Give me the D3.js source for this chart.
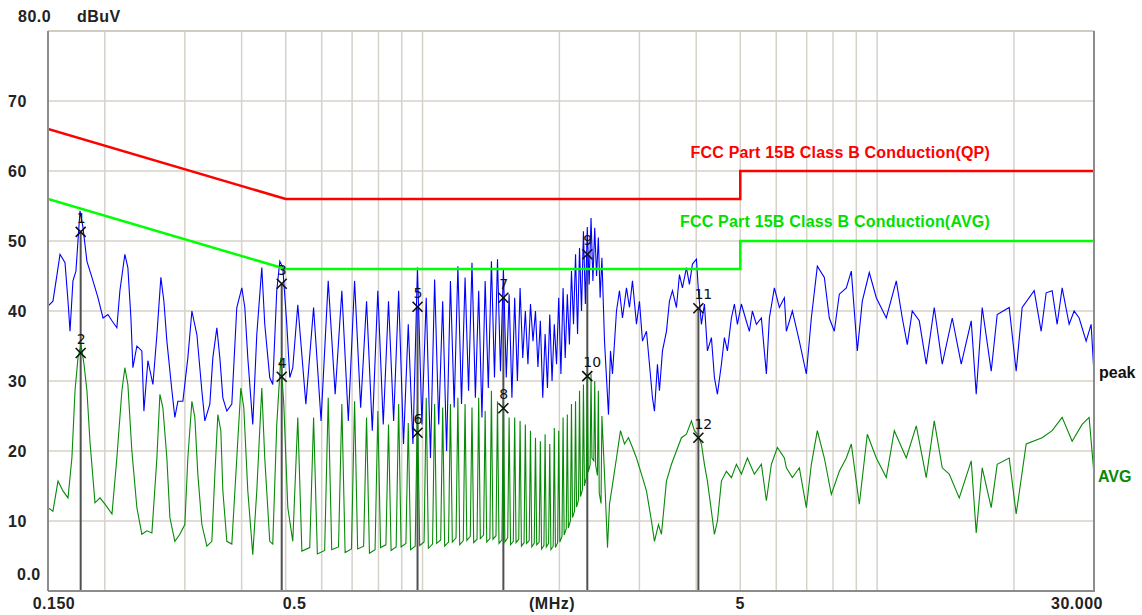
<!DOCTYPE html>
<html><head><meta charset="utf-8">
<script src="https://cdn.jsdelivr.net/npm/d3@7"></script>
<style>body{margin:0;background:#fff}svg{display:block}</style>
</head><body>
<svg id="chart" width="1142" height="615"></svg>
<script>
// ---------------- DATA ----------------
// y-axis tick labels (dBuV)
const yTickValues = [10, 20, 30, 40, 50, 60, 70];
const yTickLabels = ["10", "20", "30", "40", "50", "60", "70"];
// x-axis labels (MHz)
const xLabelFreqs = [0.15, 0.5, 5, 30];
const xLabelTexts = ["0.150", "0.5", "5", "30.000"];
// vertical grid frequencies (MHz)
const gridFreqs = [0.2, 0.3, 0.4, 0.5, 0.6, 0.7, 0.8, 0.9, 1, 2, 3, 4, 5, 6, 7, 8, 9, 10, 20];

// limit lines
const limitFreq = [0.15, 0.5, 5, 5, 30];
const qpLimitDb = [66, 56, 56, 60, 60];
const avgLimitDb = [56, 46, 46, 50, 50];

// peak trace, 0.15 - 0.52 MHz
const lowPeakFreq = [0.1500, 0.1538, 0.1570, 0.1594, 0.1635, 0.1660, 0.1677, 0.1702, 0.1728, 0.1764,
  0.1791, 0.1827, 0.1874, 0.1932, 0.1982, 0.2032, 0.2074, 0.2126, 0.2159, 0.2214,
  0.2248, 0.2283, 0.2306, 0.2353, 0.2413, 0.2438, 0.2488, 0.2552, 0.2604, 0.2657,
  0.2698, 0.2739, 0.2810, 0.2852, 0.2896, 0.2970, 0.3046, 0.3109, 0.3189, 0.3270,
  0.3320, 0.3405, 0.3457, 0.3528, 0.3582, 0.3637, 0.3711, 0.3806, 0.3903, 0.4004,
  0.4065, 0.4127, 0.4232, 0.4319, 0.4430, 0.4497, 0.4612, 0.4683, 0.4779, 0.4853,
  0.4927, 0.5028, 0.5105, 0.5183];
const lowPeakDb = [40.7, 41.4, 45.2, 48.1, 46.9, 41.4, 37.1, 44.3, 45.7, 54.3,
  51.9, 47.1, 44.8, 41.9, 39.0, 39.5, 38.6, 37.6, 42.9, 48.1,
  46.2, 39.0, 31.9, 35.0, 34.3, 25.7, 32.9, 29.5, 36.6, 44.8,
  41.4, 35.7, 28.6, 24.8, 27.1, 27.1, 33.3, 40.0, 36.6, 28.6,
  24.3, 26.7, 33.3, 37.6, 33.3, 27.6, 25.7, 26.7, 40.5, 43.3,
  40.5, 33.3, 23.8, 36.6, 46.2, 38.1, 30.5, 29.5, 42.9, 47.1,
  46.2, 38.1, 30.5, 31.9];

// average trace, 0.15 - 0.52 MHz
const lowAvgFreq = [0.1500, 0.1538, 0.1578, 0.1618, 0.1660, 0.1693, 0.1720, 0.1746, 0.1773, 0.1800,
  0.1827, 0.1855, 0.1903, 0.1952, 0.2002, 0.2074, 0.2126, 0.2181, 0.2214, 0.2248,
  0.2294, 0.2353, 0.2413, 0.2475, 0.2539, 0.2604, 0.2644, 0.2684, 0.2739, 0.2781,
  0.2852, 0.2925, 0.3000, 0.3046, 0.3109, 0.3156, 0.3204, 0.3270, 0.3354, 0.3440,
  0.3493, 0.3546, 0.3600, 0.3637, 0.3711, 0.3806, 0.3903, 0.3984, 0.4044, 0.4127,
  0.4232, 0.4319, 0.4430, 0.4497, 0.4612, 0.4683, 0.4779, 0.4877, 0.4952, 0.5054,
  0.5183];
const lowAvgDb = [11.9, 11.4, 15.7, 14.3, 13.3, 19.0, 28.6, 33.3, 35.2, 32.4,
  28.6, 21.4, 12.6, 13.3, 12.4, 11.0, 19.0, 28.6, 31.9, 29.5,
  20.0, 11.9, 8.1, 8.6, 8.3, 19.0, 28.1, 26.2, 19.0, 10.5,
  7.1, 8.1, 9.5, 19.0, 27.1, 24.8, 16.7, 9.5, 6.4, 7.1,
  16.7, 25.2, 22.9, 14.3, 7.1, 6.7, 19.0, 29.0, 26.2, 14.3,
  5.2, 14.3, 29.0, 19.0, 7.1, 6.7, 23.8, 33.3, 26.7, 11.9,
  7.1];

// peak trace, harmonic comb 0.53 - 2.48 MHz (harmonic peak, then trough)
const combPeakFreq = [
  0.5316, 0.5538, 0.5759, 0.5981, 0.6202, 0.6424, 0.6645, 0.6867, 0.7088, 0.7310,
  0.7531, 0.7753, 0.7974, 0.8196, 0.8417, 0.8639, 0.8860, 0.9082, 0.9303, 0.9525,
  0.9746, 0.9968, 1.0189, 1.0411, 1.0632, 1.0854, 1.1075, 1.1297, 1.1518, 1.1740,
  1.1961, 1.2183, 1.2404, 1.2626, 1.2847, 1.3069, 1.3290, 1.3512, 1.3733, 1.3955,
  1.4176, 1.4398, 1.4619, 1.4841, 1.5062, 1.5284, 1.5505, 1.5727, 1.5948, 1.6170,
  1.6391, 1.6613, 1.6834, 1.7056, 1.7277, 1.7499, 1.7720, 1.7942, 1.8163, 1.8385,
  1.8606, 1.8828, 1.9049, 1.9271, 1.9492, 1.9714, 1.9935, 2.0157, 2.0378, 2.0600,
  2.0821, 2.1043, 2.1264, 2.1486, 2.1707, 2.1929, 2.2150, 2.2372, 2.2593, 2.2815,
  2.3036, 2.3258, 2.3479, 2.3701, 2.3922, 2.4144, 2.4365, 2.4587, 2.4808];
const combPeakDb = [
  40.9, 26.7, 40.5, 24.3, 44.3, 28.1, 42.9, 24.3, 44.3, 26.2,
  41.4, 22.9, 42.9, 23.8, 41.4, 24.3, 42.9, 21.0, 38.1, 21.0,
  46.2, 23.8, 41.9, 19.0, 44.5, 23.8, 41.4, 20.0, 44.3, 26.2,
  46.4, 26.7, 44.8, 28.6, 46.9, 27.6, 42.9, 24.8, 44.3, 29.0,
  47.1, 30.5, 47.4, 31.4, 46.0, 30.5, 42.4, 27.6, 41.9, 30.0,
  43.3, 33.3, 40.0, 32.4, 41.0, 35.7, 40.0, 32.0, 38.6, 27.6,
  36.7, 29.0, 39.5, 30.0, 38.1, 32.4, 41.9, 31.0, 43.3, 33.3,
  42.4, 35.2, 45.7, 38.1, 48.1, 36.7, 49.0, 40.0, 51.4, 41.0,
  52.0, 43.8, 53.3, 44.3, 51.9, 45.0, 50.5, 41.9, 47.6];

// average trace, harmonic comb 0.53 - 2.48 MHz (harmonic peak, then flat trough edges)
const combAvgFreq = [
  0.5316, 0.5427, 0.5648, 0.5759, 0.5870, 0.6091, 0.6202, 0.6313, 0.6534,
  0.6645, 0.6756, 0.6977, 0.7088, 0.7199, 0.7420, 0.7531, 0.7642, 0.7863,
  0.7974, 0.8085, 0.8306, 0.8417, 0.8528, 0.8749, 0.8860, 0.8971, 0.9192,
  0.9303, 0.9414, 0.9635, 0.9746, 0.9857, 1.0078, 1.0189, 1.0300, 1.0521,
  1.0632, 1.0743, 1.0964, 1.1075, 1.1186, 1.1407, 1.1518, 1.1629, 1.1850,
  1.1961, 1.2072, 1.2293, 1.2404, 1.2515, 1.2736, 1.2847, 1.2958, 1.3179,
  1.3290, 1.3401, 1.3622, 1.3733, 1.3844, 1.4065, 1.4176, 1.4287, 1.4508,
  1.4619, 1.4730, 1.4951, 1.5062, 1.5173, 1.5394, 1.5505, 1.5616, 1.5837,
  1.5948, 1.6059, 1.6280, 1.6391, 1.6502, 1.6723, 1.6834, 1.6945, 1.7166,
  1.7277, 1.7388, 1.7609, 1.7720, 1.7831, 1.8052, 1.8163, 1.8274, 1.8495,
  1.8606, 1.8717, 1.8938, 1.9049, 1.9160, 1.9381, 1.9492, 1.9603, 1.9824,
  1.9935, 2.0046, 2.0267, 2.0378, 2.0489, 2.0710, 2.0821, 2.0932, 2.1153,
  2.1264, 2.1375, 2.1596, 2.1707, 2.1818, 2.2039, 2.2150, 2.2261, 2.2482,
  2.2593, 2.2704, 2.2925, 2.3036, 2.3147, 2.3368, 2.3479, 2.3590, 2.3811,
  2.3922, 2.4033, 2.4254, 2.4365, 2.4476, 2.4697, 2.4808];
const combAvgDb = [
  24.8, 5.7, 6.2, 24.8, 5.3, 5.8, 27.6, 5.9, 6.3,
  26.7, 5.5, 6.0, 27.1, 6.0, 6.4, 24.8, 5.4, 5.9,
  25.7, 6.2, 6.6, 23.8, 5.8, 6.3, 26.7, 6.3, 6.8,
  24.0, 5.9, 6.4, 26.7, 6.5, 7.0, 27.6, 6.1, 6.7,
  26.7, 6.8, 7.3, 26.2, 6.4, 7.0, 26.7, 7.0, 7.6,
  27.6, 6.6, 7.2, 26.7, 7.2, 7.8, 26.2, 6.9, 7.4,
  27.6, 7.5, 8.0, 25.7, 7.0, 7.5, 28.6, 7.4, 7.9,
  27.1, 6.8, 7.3, 27.6, 7.0, 7.6, 24.8, 6.6, 7.1,
  24.8, 6.9, 7.4, 24.3, 6.4, 6.9, 23.8, 6.8, 7.2,
  22.9, 6.3, 6.8, 21.9, 6.6, 7.0, 21.4, 6.0, 6.5,
  22.4, 6.3, 6.8, 21.0, 5.9, 6.4, 23.3, 6.2, 6.9,
  22.9, 7.0, 7.8, 24.8, 8.0, 8.9, 25.2, 9.0, 10.0,
  26.7, 10.5, 11.4, 27.1, 12.0, 13.0, 28.6, 13.5, 14.5,
  29.5, 15.0, 16.2, 30.5, 17.0, 18.0, 31.0, 19.0, 18.6,
  30.0, 18.0, 16.5, 28.6, 14.0, 12.5, 25.0];

// peak trace 2.5 - 30 MHz
const highPeakFreq = [2.5136, 2.5650, 2.5911, 2.6175, 2.6710, 2.7118, 2.7534, 2.8097, 2.8526, 2.8963,
  2.9555, 3.0007, 3.0467, 3.1090, 3.1565, 3.2049, 3.2374, 3.2870, 3.3204, 3.3713,
  3.4402, 3.4928, 3.5463, 3.6188, 3.6742, 3.7304, 3.8067, 3.8649, 3.9241, 4.0043,
  4.0451, 4.1069, 4.1698, 4.2337, 4.3202, 4.3863, 4.4535, 4.5445, 4.6140, 4.6847,
  4.7804, 4.8536, 4.9279, 5.0286, 5.1315, 5.2364, 5.3166, 5.4253, 5.5643, 5.7070,
  5.7943, 5.9428, 6.0951, 6.2513, 6.3149, 6.5097, 6.7444, 6.9877, 7.1668, 7.3877,
  7.6542, 7.8504, 8.0516, 8.2580, 8.5558, 8.7750, 9.0458, 9.2775, 9.6121, 9.9588,
  10.4757, 11.0197, 11.3596, 11.6507, 11.9492, 12.3802, 12.8267, 13.3568, 13.9087, 14.6309,
  15.3127, 16.1076, 16.5207, 17.0300, 17.8236, 18.3733, 19.5237, 20.2275, 20.8513, 22.1569,
  22.9558, 23.5445, 24.2706, 24.8926, 25.5306, 26.4514, 27.1292, 27.8245, 28.8280, 29.5668,
  30.0];
const highPeakDb = [35.7, 25.2, 34.3, 31.0, 40.0, 42.9, 39.0, 43.3, 40.5, 44.3,
  38.1, 41.4, 35.7, 37.1, 32.4, 27.6, 25.7, 32.4, 28.6, 34.3,
  37.1, 41.4, 42.9, 40.5, 45.2, 43.3, 46.2, 43.8, 46.7, 47.4,
  42.9, 38.1, 41.0, 34.3, 36.2, 30.5, 28.1, 32.4, 36.2, 34.3,
  39.0, 41.0, 38.1, 41.0, 39.0, 37.1, 40.0, 38.1, 39.0, 31.0,
  39.0, 43.3, 40.5, 41.9, 37.1, 40.0, 35.7, 31.0, 39.0, 46.4,
  44.8, 39.0, 37.1, 42.4, 43.3, 45.7, 34.3, 41.4, 45.5, 41.9,
  39.0, 44.3, 39.0, 35.2, 40.0, 38.6, 32.4, 40.5, 32.4, 39.0,
  32.4, 38.6, 28.1, 40.5, 31.4, 39.5, 40.5, 31.4, 40.5, 42.9,
  37.1, 42.6, 42.9, 38.1, 43.3, 38.1, 40.0, 39.0, 35.7, 38.1,
  31.0];

// average trace 2.5 - 30 MHz
const highAvgFreq = [2.5136, 2.5521, 2.5780, 2.6175, 2.6710, 2.7256, 2.7813, 2.8382, 2.8963, 2.9555,
  3.0313, 3.1090, 3.1886, 3.2374, 3.3036, 3.3542, 3.4402, 3.5283, 3.6188, 3.7115,
  3.8067, 3.9042, 3.9640, 4.0247, 4.1069, 4.1698, 4.2337, 4.3202, 4.3863, 4.4535,
  4.5445, 4.6610, 4.7804, 4.9030, 5.0286, 5.1837, 5.3707, 5.5643, 5.7070, 5.8532,
  6.0337, 6.2513, 6.3149, 6.5097, 6.7444, 6.9877, 7.1668, 7.3877, 7.6542, 7.9301,
  8.2580, 8.5558, 8.7750, 9.1377, 9.5153, 9.9588, 10.4757, 10.9087, 11.5918, 12.1936,
  12.8267, 13.3568, 13.9087, 14.4102, 15.1584, 16.1076, 16.5207, 17.0300, 17.8236, 18.3733,
  19.5237, 20.2275, 21.2778, 23.0726, 24.2706, 25.5306, 26.8561, 28.2502, 29.2690, 30.0];
const highAvgDb = [16.7, 6.2, 12.4, 15.2, 19.0, 22.9, 21.0, 21.9, 20.5, 19.0,
  16.7, 14.3, 10.0, 7.1, 9.5, 8.1, 15.7, 18.1, 20.0, 21.9,
  22.4, 24.3, 22.9, 22.4, 21.0, 18.1, 15.7, 11.4, 8.1, 10.0,
  15.7, 17.1, 16.2, 18.1, 16.7, 19.0, 16.7, 18.1, 12.9, 18.1,
  20.5, 19.0, 17.6, 16.2, 17.6, 11.9, 18.1, 22.9, 19.0, 13.8,
  17.1, 19.0, 21.0, 12.4, 22.4, 19.0, 16.2, 22.9, 19.0, 23.6,
  16.2, 24.3, 17.6, 16.7, 13.3, 18.6, 8.3, 17.6, 11.9, 18.1,
  19.0, 11.0, 21.0, 21.9, 22.9, 24.8, 21.4, 23.8, 24.8, 16.7];

// measurement markers
const markerIds = ["1", "2", "3", "4", "5", "6", "7", "8", "9", "10", "11", "12"];
const markerFreq = [0.177, 0.177, 0.490, 0.490, 0.975, 0.975, 1.506, 1.506, 2.304, 2.304, 4.044, 4.044];
const markerDb = [51.3, 34.0, 43.9, 30.6, 40.6, 22.6, 41.9, 26.1, 48.1, 30.7, 40.4, 21.9];

// ---------------- DRAW ----------------
const L = 48, R = 1094, T = 31, B = 591;
const x = d3.scaleLog().domain([0.15, 30]).range([L, R]);
const y = d3.scaleLinear().domain([0, 80]).range([B, T]);
const svg = d3.select("#chart");
const FONT = "'Liberation Sans', Arial, sans-serif";

svg.append("rect").attr("width", 1142).attr("height", 615).attr("fill", "#fff");

const pairs = (f, v) => f.map((d, i) => [d, v[i]]);
const peakData = pairs(lowPeakFreq, lowPeakDb).concat(pairs(combPeakFreq, combPeakDb), pairs(highPeakFreq, highPeakDb));
const avgData = pairs(lowAvgFreq, lowAvgDb).concat(pairs(combAvgFreq, combAvgDb), pairs(highAvgFreq, highAvgDb));

svg.append("defs").append("clipPath").attr("id", "clip")
  .append("rect").attr("x", L).attr("y", T).attr("width", R - L).attr("height", B - T);

// grid
const grid = svg.append("g").attr("stroke", "#d6d2ca").attr("stroke-width", 1.5);
grid.selectAll("line.v").data(gridFreqs).join("line")
  .attr("x1", d => x(d)).attr("x2", d => x(d)).attr("y1", T).attr("y2", B);
grid.selectAll("line.h").data(yTickValues).join("line")
  .attr("x1", L).attr("x2", R).attr("y1", d => y(d)).attr("y2", d => y(d));
svg.append("line").attr("x1", L).attr("x2", R).attr("y1", T).attr("y2", T)
  .attr("stroke", "#d0ccc4").attr("stroke-width", 2);

// marker vertical lines
const mk = markerFreq.map((f, i) => ({ id: markerIds[i], f: f, v: markerDb[i] }));
const topPerFreq = d3.rollups(mk, g => d3.max(g, d => d.v), d => d.f);
svg.append("g").selectAll("line").data(topPerFreq).join("line")
  .attr("x1", d => x(d[0])).attr("x2", d => x(d[0]))
  .attr("y1", B).attr("y2", d => y(d[1]))
  .attr("stroke", "#505050").attr("stroke-width", 2);

const line = d3.line().x(d => x(d[0])).y(d => y(d[1]));
const plot = svg.append("g").attr("clip-path", "url(#clip)");
plot.append("path").datum(peakData).attr("d", line)
  .attr("fill", "none").attr("stroke", "#0000ff").attr("stroke-width", 1.1);
plot.append("path").datum(avgData).attr("d", line)
  .attr("fill", "none").attr("stroke", "#078a07").attr("stroke-width", 1.1);

// limit lines
plot.append("path").datum(pairs(limitFreq, qpLimitDb)).attr("d", line)
  .attr("fill", "none").attr("stroke", "#ff0000").attr("stroke-width", 2.5);
plot.append("path").datum(pairs(limitFreq, avgLimitDb)).attr("d", line)
  .attr("fill", "none").attr("stroke", "#00ff00").attr("stroke-width", 2.5);

// frame
const frame = svg.append("g").attr("stroke", "#8c8c8c").attr("stroke-width", 2);
frame.append("line").attr("x1", L).attr("x2", L).attr("y1", T).attr("y2", B);
frame.append("line").attr("x1", L).attr("x2", R + 1).attr("y1", B).attr("y2", B);
frame.append("line").attr("x1", R).attr("x2", R).attr("y1", T).attr("y2", B);

// markers
const mg = svg.append("g");
const mSel = mg.selectAll("g").data(mk).join("g")
  .attr("transform", d => `translate(${x(d.f)},${y(d.v)})`);
mSel.append("path").attr("d", "M-5,-5L5,5M-5,5L5,-5")
  .attr("stroke", "#111").attr("stroke-width", 1.6).attr("fill", "none");
mSel.append("text").text(d => d.id).attr("x", -4).attr("y", -9)
  .attr("font-family", "'DejaVu Sans', sans-serif").attr("font-size", 14).attr("fill", "#111");

// limit labels
svg.append("text").text("FCC Part 15B Class B Conduction(QP)")
  .attr("x", 990).attr("y", 158).attr("text-anchor", "end").attr("letter-spacing", 0.2)
  .attr("font-family", FONT).attr("font-weight", "bold").attr("font-size", 16).attr("fill", "#ff0000");
svg.append("text").text("FCC Part 15B Class B Conduction(AVG)")
  .attr("x", 990).attr("y", 227).attr("text-anchor", "end").attr("letter-spacing", 0.2)
  .attr("font-family", FONT).attr("font-weight", "bold").attr("font-size", 16).attr("fill", "#00e000");

// axis labels
const axTxt = (t, px, py, anchor) => svg.append("text").text(t).attr("x", px).attr("y", py)
  .attr("text-anchor", anchor || "start").attr("font-family", FONT).attr("font-weight", "bold")
  .attr("font-size", 16).attr("fill", "#222").attr("letter-spacing", 0.5);
svg.append("g").selectAll("text").data(yTickValues).join("text")
  .text((d, i) => yTickLabels[i]).attr("x", 8).attr("y", d => y(d) + 5.5)
  .attr("font-family", FONT).attr("font-weight", "bold").attr("font-size", 16)
  .attr("fill", "#222").attr("letter-spacing", 0.5);
axTxt("80.0", 18, y(80) - 9);
axTxt("dBuV", 77, y(80) - 9);
axTxt("0.0", 17, y(0) - 11);
const xAnchors = ["middle", "start", "middle", "end"];
const xShift = [6, -3, 0, 9];
xLabelFreqs.forEach((f, i) => axTxt(xLabelTexts[i], x(f) + xShift[i], 609, xAnchors[i]));
axTxt("(MHz)", 552, 609, "middle");

// trace labels
const lastPeak = peakData[peakData.length - 1][1];
const lastAvg = avgData[avgData.length - 1][1];
svg.append("text").text("peak").attr("x", 1099).attr("y", y(lastPeak) + 4)
  .attr("font-family", FONT).attr("font-weight", "bold").attr("font-size", 16).attr("fill", "#111");
svg.append("text").text("AVG").attr("x", 1098).attr("y", y(lastAvg) + 8)
  .attr("font-family", FONT).attr("font-weight", "bold").attr("font-size", 16).attr("fill", "#078a07");
</script>
</body></html>
